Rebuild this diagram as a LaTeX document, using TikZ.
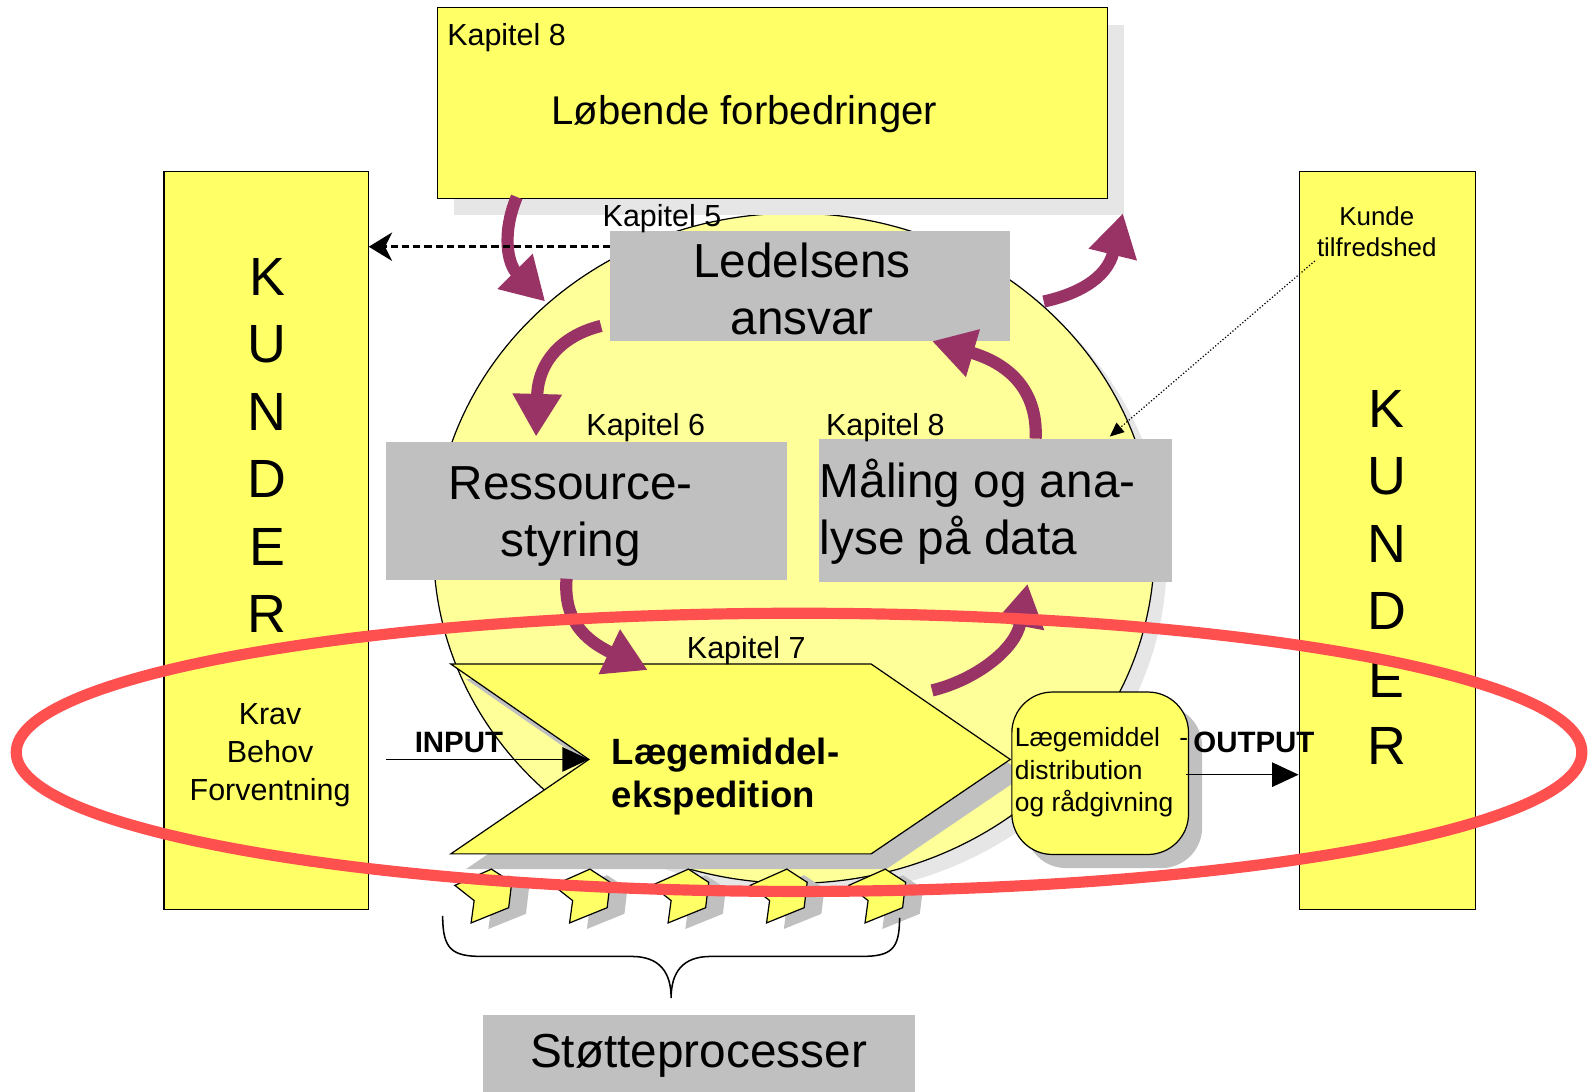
\documentclass[tikz,border=0pt]{standalone}
\usepackage{fontspec}
\setmainfont{Liberation Sans}
\usetikzlibrary{arrows.meta,positioning}
\definecolor{gul}{HTML}{FFFF66}
\definecolor{lysgul}{HTML}{FFFF99}
\definecolor{graa}{HTML}{C0C0C0}
\definecolor{lysgraa}{HTML}{E6E6E6}
\definecolor{lilla}{HTML}{993366}
\definecolor{roed}{HTML}{FF5050}
\newcommand{\fsz}[2]{\fontsize{#1}{#2}\selectfont}

\begin{document}
\begin{tikzpicture}[x=1pt, y=-1pt,
    boks/.style={draw, fill=gul, line width=1.2pt, inner sep=0pt, anchor=north west},
    graaboks/.style={fill=graa, inner sep=0pt, anchor=north west},
    skygge/.style={fill=lysgraa, inner sep=0pt, anchor=north west},
    kap/.style={font=\fsz{30}{35}},
    bogstav/.style={font=\fsz{53}{60}},
    stor/.style={font=\fsz{47}{56}, align=center},
    fed/.style={font=\bfseries\fsz{29}{34}},
    pil/.style={draw=lilla, line width=12pt, -{Triangle[width=46pt, length=42pt, fill=lilla]}},
    io/.style={-{Triangle[width=24pt, length=26pt]}, line width=1.2pt}
]
    \useasboundingbox (0,0) rectangle (1568,1075);

    % hjulet
    \fill[lysgraa] (794,552) ellipse [x radius=355, y radius=330];
    \draw[fill=lysgul, line width=1.2pt] (782,540) ellipse [x radius=355, y radius=330];

    % loebende forbedringer
    \node[skygge, minimum width=660pt, minimum height=188pt] (forbedrskygge) at (447,24) {};
    \node[boks, minimum width=660pt, minimum height=188pt] (forbedr) at (430,7) {};
    \node[kap, anchor=west] (kap8a) at (437,37) {Kapitel 8};
    \node[font=\fsz{39.5}{46}] (forbedrtxt) at (733,112) {Løbende forbedringer};

    % kunder
    \node[boks, minimum width=201pt, minimum height=727pt] (kunderV) at (161,168) {};
    \node[boks, minimum width=174pt, minimum height=727pt] (kunderH) at (1279,168) {};
    \foreach \b [count=\i] in {K,U,N,D,E,R} {
        \node[bogstav] (kv\i) at (263,{273+66.4*(\i-1)}) {\b};
        \node[bogstav] (kh\i) at (1366,{403+66.4*(\i-1)}) {\b};
    }
    \node[font=\fsz{30}{37.5}, align=center] (krav) at (266,744) {Krav\\Behov\\Forventning};
    \node[font=\fsz{25.5}{31}, align=center] (tilfreds) at (1356,228) {Kunde\\tilfredshed};

    % processerne
    \node[graaboks, minimum width=394pt, minimum height=109pt] (ledelse) at (601,227) {};
    \node[stor] (ledelsetxt) at (790,285) {Ledelsens\\ansvar};
    \node[kap] (kap5) at (652,215) {Kapitel 5};
    \node[graaboks, minimum width=395pt, minimum height=136pt] (ressource) at (380,435) {};
    \node[stor] (ressourcetxt) at (562,509) {Ressource-\\styring};
    \node[kap] (kap6) at (636,421) {Kapitel 6};
    \node[graaboks, minimum width=348pt, minimum height=141pt] (maaling) at (806,432) {};
    \node[stor, align=left, anchor=west] (maalingtxt) at (804,504) {Måling og ana-\\lyse på data};
    \node[kap] (kap8b) at (872,421) {Kapitel 8};

    % laegemiddelekspedition
    \coordinate (hak) at (580,748);
    \coordinate (spids) at (995,748);
    \fill[graa] (459,669) -- (873,669) -- (1010,763) -- (873,856) -- (459,856) -- (595,763) -- cycle;
    \draw[fill=gul, line width=1.2pt] (444,654) -- (858,654) -- (spids) -- (858,841) -- (444,841) -- (hak) -- cycle;
    \node[fed, font=\bfseries\fsz{36}{43}, align=left, anchor=west] (eksp) at (599,765) {Lægemiddel-\\ekspedition};
    \node[kap] (kap7) at (735,641) {Kapitel 7};

    \fill[graa, rounded corners=40pt] (1010,695) rectangle (1184,855);
    \node[boks, rounded corners=40pt, minimum width=174pt, minimum height=160pt] (distr) at (996,681) {};
    \node[font=\fsz{26}{32}, align=left, anchor=west] (distrtxt) at (996,761) {Lægemiddel\hspace{19pt}-\\distribution\\og rådgivning};

    % stoetteprocesser
    \foreach \dx in {0,97,194,291,388} {
        \fill[graa, shift={({\dx+17},6)}] (448,872) -- (484,856) -- (504,869) -- (501,894) -- (464,909) -- (467,887) -- cycle;
        \draw[fill=gul, line width=1.2pt, shift={(\dx,0)}] (448,872) -- (484,856) -- (504,869) -- (501,894) -- (464,909) -- (467,887) -- cycle;
    }

    % kredsloebet
    \coordinate (p1s) at (509,194);  \coordinate (p1e) at (537,297);
    \coordinate (p2s) at (592,321);  \coordinate (p2e) at (528,430);
    \coordinate (p3s) at (558,570);  \coordinate (p3e) at (638,660);
    \coordinate (p4s) at (918,680);  \coordinate (p4e) at (1012,575);
    \coordinate (p5s) at (1020,432); \coordinate (p5e) at (918,336);
    \coordinate (p6s) at (1028,297); \coordinate (p6e) at (1106,210);
    \draw[pil] (p1s) .. controls (494,230) and (500,260) .. (p1e);
    \draw[pil] (p2s) .. controls (555,330) and (530,355) .. (p2e);
    \draw[pil] (p3s) .. controls (555,610) and (575,630) .. (p3e);
    \draw[pil] (p4s) .. controls (960,670) and (1000,640) .. (p4e);
    \draw[pil] (p5s) .. controls (1022,390) and (1000,360) .. (p5e);
    \draw[pil] (p6s) .. controls (1060,290) and (1090,275) .. (p6e);

    % input og output
    \coordinate (indstart) at (380,748);
    \draw[io] (indstart) -- (hak);
    \node[fed] (input) at (452,731) {INPUT};
    \coordinate (udstart) at (1168,763);
    \draw[io] (udstart) -- (kunderH.west |- udstart);
    \node[fed] (output) at (1235,731) {OUTPUT};

    \coordinate (stregY) at (0,243);
    \draw[line width=2.5pt, dash pattern=on 7pt off 4pt, -{Stealth[length=23pt, width=28pt, inset=7pt]}] (ledelse.west |- stregY) -- (kunderV.east |- stregY);
    \coordinate (tilfredsend) at (1295,257);
    \coordinate (hjulkant) at (1093,430);
    \draw[dotted, line width=1.2pt, -{Triangle[length=14pt, width=12pt]}] (tilfredsend) -- (hjulkant);

    \draw[roed, line width=11pt] (787,741) ellipse [x radius=771, y radius=137];

    \draw[line width=1.5pt] (436,902) .. controls (436,935) and (445,942) .. (475,942) -- (622,942)
        .. controls (650,942) and (661,958) .. (661,983) .. controls (661,958) and (672,942) .. (700,942)
        -- (848,942) .. controls (878,942) and (886,935) .. (886,904);
    \node[graaboks, minimum width=425pt, minimum height=80pt] (stoette) at (476,999) {};
    \node[stor] (stoettetxt) at (688,1040) {Støtteprocesser};
\end{tikzpicture}
\end{document}
